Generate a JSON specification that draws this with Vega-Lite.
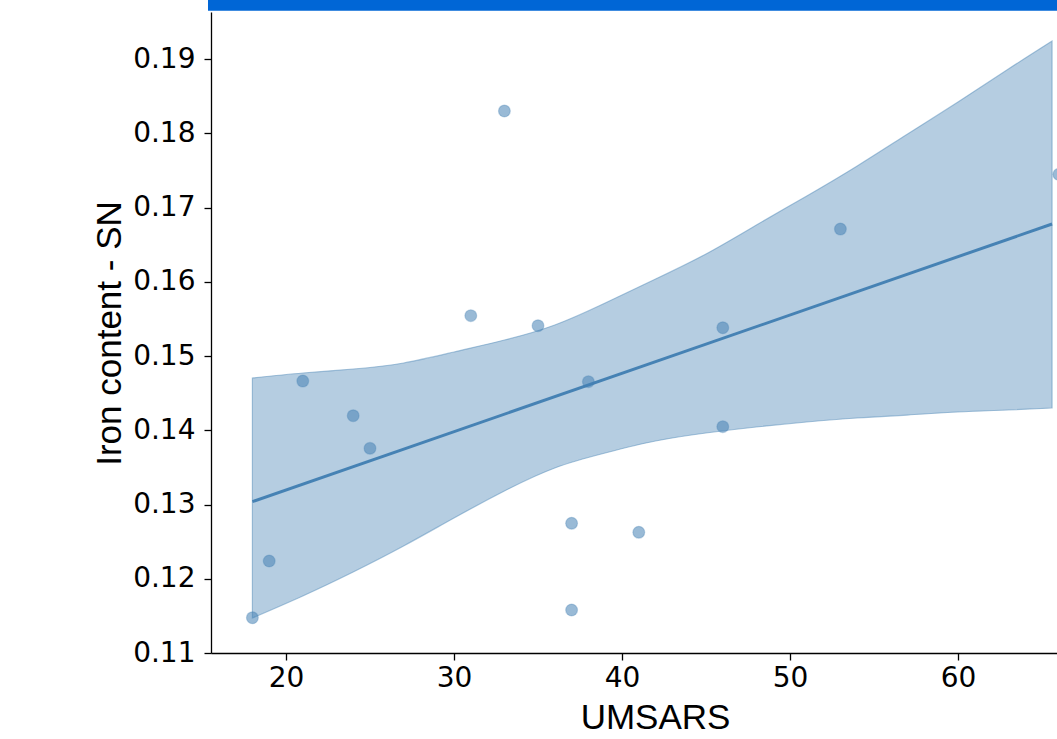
{
  "$schema": "https://vega.github.io/schema/vega-lite/v6.json",
  "width": 846,
  "height": 641,
  "autosize": {"type": "none"},
  "padding": {"left": 211, "top": 12, "right": 0, "bottom": 86},
  "background": "white",
  "config": {
    "view": {"stroke": null},
    "axis": {
      "grid": false,
      "domainColor": "#000000",
      "domainWidth": 1.3,
      "tickColor": "#000000",
      "tickWidth": 1.3,
      "tickSize": 7,
      "labelFont": "DejaVu Sans",
      "labelFontSize": 28,
      "labelColor": "#000000",
      "titleFont": "Liberation Sans",
      "titleFontSize": 35,
      "titleFontWeight": "normal",
      "titleColor": "#000000"
    }
  },
  "datasets": {
    "points": [
      {"UMSARS": 18, "iron": 0.11475},
      {"UMSARS": 19, "iron": 0.12239},
      {"UMSARS": 21, "iron": 0.14663},
      {"UMSARS": 24, "iron": 0.14196},
      {"UMSARS": 25, "iron": 0.13757},
      {"UMSARS": 31, "iron": 0.15543},
      {"UMSARS": 33, "iron": 0.18300},
      {"UMSARS": 35, "iron": 0.15408},
      {"UMSARS": 37, "iron": 0.12747},
      {"UMSARS": 37, "iron": 0.11579},
      {"UMSARS": 38, "iron": 0.14654},
      {"UMSARS": 41, "iron": 0.12626},
      {"UMSARS": 46, "iron": 0.15381},
      {"UMSARS": 46, "iron": 0.14048},
      {"UMSARS": 53, "iron": 0.16710},
      {"UMSARS": 66, "iron": 0.17447}
    ],
    "band": [
      {"UMSARS": 18, "lo": 0.11471, "hi": 0.14704},
      {"UMSARS": 21, "lo": 0.11768, "hi": 0.14771},
      {"UMSARS": 24, "lo": 0.12091, "hi": 0.14825},
      {"UMSARS": 27, "lo": 0.12441, "hi": 0.14906},
      {"UMSARS": 30, "lo": 0.12818, "hi": 0.15054},
      {"UMSARS": 33, "lo": 0.13182, "hi": 0.15215},
      {"UMSARS": 36, "lo": 0.13492, "hi": 0.15418},
      {"UMSARS": 39, "lo": 0.13694, "hi": 0.15714},
      {"UMSARS": 42, "lo": 0.13855, "hi": 0.16037},
      {"UMSARS": 45, "lo": 0.13963, "hi": 0.16374},
      {"UMSARS": 48, "lo": 0.14044, "hi": 0.16764},
      {"UMSARS": 51, "lo": 0.14111, "hi": 0.17155},
      {"UMSARS": 54, "lo": 0.14165, "hi": 0.17559},
      {"UMSARS": 57, "lo": 0.14205, "hi": 0.17990},
      {"UMSARS": 60, "lo": 0.14246, "hi": 0.18421},
      {"UMSARS": 63, "lo": 0.14273, "hi": 0.18865},
      {"UMSARS": 65.6, "lo": 0.14300, "hi": 0.19242}
    ],
    "fit": [
      {"UMSARS": 18, "fit": 0.13038},
      {"UMSARS": 65.6, "fit": 0.16778}
    ]
  },
  "encoding": {
    "x": {
      "type": "quantitative",
      "scale": {"domain": [15.536, 65.893], "nice": false, "zero": false},
      "axis": {
        "title": "UMSARS",
        "values": [20, 30, 40, 50, 60],
        "labelPadding": 4,
        "titleX": 444,
        "titleY": 75,
        "titleAlign": "center",
        "titleAnchor": null,
        "titleBaseline": "alphabetic"
      }
    },
    "y": {
      "type": "quantitative",
      "scale": {"domain": [0.11, 0.19633], "nice": false, "zero": false},
      "axis": {
        "title": "Iron content - SN",
        "values": [0.11, 0.12, 0.13, 0.14, 0.15, 0.16, 0.17, 0.18, 0.19],
        "format": ".2f",
        "labelPadding": 9,
        "titleX": -91,
        "titleY": 321,
        "titleAngle": -90,
        "titleAlign": "center",
        "titleAnchor": null,
        "titleBaseline": "alphabetic"
      }
    }
  },
  "layer": [
    {
      "data": {"name": "band"},
      "mark": {"type": "area", "interpolate": "natural", "color": "steelblue", "fillOpacity": 0.4, "stroke": "steelblue", "strokeOpacity": 0.45, "strokeWidth": 1.2},
      "encoding": {
        "x": {"field": "UMSARS", "type": "quantitative"},
        "y": {"field": "lo", "type": "quantitative"},
        "y2": {"field": "hi"}
      }
    },
    {
      "data": {"name": "fit"},
      "mark": {"type": "line", "color": "steelblue", "strokeWidth": 3},
      "encoding": {
        "x": {"field": "UMSARS", "type": "quantitative"},
        "y": {"field": "fit", "type": "quantitative"}
      }
    },
    {
      "data": {"name": "points"},
      "mark": {"type": "circle", "clip": true, "size": 140, "color": "steelblue", "fillOpacity": 0.55, "stroke": "steelblue", "strokeOpacity": 0.3, "strokeWidth": 1.2},
      "encoding": {
        "x": {"field": "UMSARS", "type": "quantitative"},
        "y": {"field": "iron", "type": "quantitative"}
      }
    },
    {
      "data": {"values": [{}]},
      "mark": {"type": "rect", "color": "#0066d6", "clip": false},
      "encoding": {
        "x": {"datum": 15.357},
        "x2": {"datum": 66.5},
        "y": {"datum": 0.19650},
        "y2": {"datum": 0.19800}
      }
    }
  ]
}
